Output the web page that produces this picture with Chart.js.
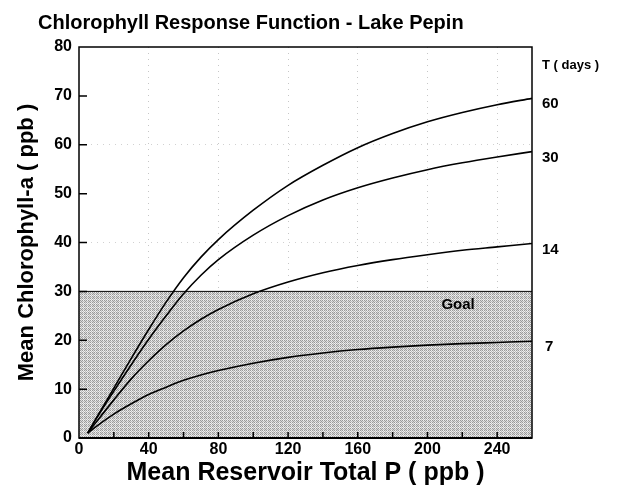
<!DOCTYPE html>
<html>
<head>
<meta charset="utf-8">
<script src="https://cdn.jsdelivr.net/npm/chart.js@4.4.0/dist/chart.umd.min.js"></script>
<style>
  html, body { margin: 0; padding: 0; background: #fff; }
  #wrap { width: 629px; height: 486px; }
</style>
</head>
<body>
<div id="wrap"><canvas id="myChart"></canvas></div>
<script>
// total P (ppb) sample points
const totalP = [5, 10, 20, 30, 40, 50, 60, 70, 80, 100, 120, 140, 160, 180, 200, 220, 240, 260];

// chlorophyll-a response for each residence time T (days)
const chl60 = [1.0, 4.1, 10.2, 16.3, 22.2, 27.8, 32.8, 37.0, 40.6, 46.6, 51.7, 55.8, 59.4, 62.3, 64.7, 66.6, 68.2, 69.5];
const chl30 = [1.0, 4.0, 9.6, 15.0, 20.2, 25.0, 29.5, 33.3, 36.5, 41.5, 45.5, 48.7, 51.2, 53.2, 54.9, 56.3, 57.5, 58.6];
const chl14 = [1.0, 3.3, 7.8, 12.1, 15.8, 19.1, 21.9, 24.3, 26.3, 29.5, 31.9, 33.8, 35.3, 36.5, 37.5, 38.4, 39.1, 39.8];
const chl7  = [1.0, 2.4, 4.9, 7.0, 8.9, 10.4, 11.8, 12.9, 13.8, 15.3, 16.5, 17.4, 18.1, 18.6, 19.0, 19.3, 19.55, 19.8];
const residenceDays = ['60', '30', '14', '7'];

// goal band and axis labels
const goalLevel = 30;
const xTickLabels = [0, 40, 80, 120, 160, 200, 240];
const yTickLabels = [0, 10, 20, 30, 40, 50, 60, 70, 80];

const FONT = '"Liberation Sans", Arial, Helvetica, sans-serif';

// stippled grey fill like the scanned shading
function makeStipple() {
    const c = document.createElement('canvas');
    c.width = 4; c.height = 4;
    const g = c.getContext('2d');
    for (let y = 0; y < 4; y++) {
        for (let x = 0; x < 4; x++) {
            let col = ((x + y) % 2 === 0) ? '#999999' : '#dadada';
            if (x === 3 || y === 3) col = ((x + y) % 2 === 0) ? '#bcbcbc' : '#f0f0f0';
            g.fillStyle = col;
            g.fillRect(x, y, 1, 1);
        }
    }
    return g.createPattern(c, 'repeat');
}

function toPoints(ys) {
    return totalP.map((x, i) => ({ x: x, y: ys[i] }));
}

// box, inward ticks and text labels
const decorPlugin = {
    id: 'decor',
    afterDatasetsDraw(chart) {
        const ctx = chart.ctx;
        const a = chart.chartArea;
        const xs = chart.scales.x;
        const ys = chart.scales.y;
        ctx.save();
        ctx.strokeStyle = '#000';

        // inward tick marks
        ctx.lineWidth = 1.5;
        ctx.beginPath();
        xs.ticks.forEach(t => {
            if (t.value <= 0 || t.value >= 260) return;
            const px = xs.getPixelForValue(t.value);
            ctx.moveTo(px, a.bottom);
            ctx.lineTo(px, a.bottom - 6);
        });
        ys.ticks.forEach(t => {
            if (t.value <= 0 || t.value >= 80) return;
            const py = ys.getPixelForValue(t.value);
            ctx.moveTo(a.left, py);
            ctx.lineTo(a.left + 8, py);
        });
        ctx.stroke();

        // frame
        ctx.lineWidth = 1.5;
        ctx.strokeRect(a.left, a.top, a.right - a.left, a.bottom - a.top);
        ctx.lineWidth = 2.2;
        ctx.beginPath();
        ctx.moveTo(a.left, a.bottom);
        ctx.lineTo(a.right, a.bottom);
        ctx.stroke();

        // goal label, just inside the band
        ctx.fillStyle = '#000';
        ctx.font = 'bold 15px ' + FONT;
        ctx.textAlign = 'left';
        ctx.textBaseline = 'middle';
        ctx.fillText('Goal', xs.getPixelForValue(208), ys.getPixelForValue(goalLevel) + 13);

        // residence time labels at the right
        ctx.font = 'bold 13px ' + FONT;
        ctx.fillText('T ( days )', a.right + 10, a.top + 18);
        ctx.font = 'bold 15px ' + FONT;
        chart.data.datasets.forEach(ds => {
            if (!ds.endLabel) return;
            const last = ds.data[ds.data.length - 1];
            ctx.fillText(ds.endLabel, a.right + 10 + (ds.endLabel.length === 1 ? 3 : 0), ys.getPixelForValue(last.y) + 6);
        });

        // title
        ctx.font = 'bold 20px ' + FONT;
        ctx.fillText('Chlorophyll Response Function - Lake Pepin', 38, 23);
        ctx.restore();
    }
};

const ctx = document.getElementById('myChart').getContext('2d');
const stipple = makeStipple();

const curveSets = [chl60, chl30, chl14, chl7].map((ys, i) => ({
    label: 'T = ' + residenceDays[i] + ' days',
    endLabel: residenceDays[i],
    data: toPoints(ys),
    borderColor: '#000',
    borderWidth: 1.6,
    pointRadius: 0,
    fill: false,
    cubicInterpolationMode: 'monotone',
    order: 1
}));

const goalSet = {
    label: 'Goal',
    data: [{ x: 0, y: goalLevel }, { x: 260, y: goalLevel }],
    borderColor: '#000',
    borderWidth: 1,
    backgroundColor: stipple,
    pointRadius: 0,
    fill: 'origin',
    order: 10
};

const myChart = new Chart(ctx, {
    type: 'line',
    data: { datasets: [goalSet].concat(curveSets) },
    options: {
        responsive: true,
        maintainAspectRatio: false,
        animation: false,
        layout: { padding: { top: 47, right: 97, left: 0, bottom: 0 } },
        plugins: {
            legend: { display: false },
            tooltip: { enabled: false },
            title: { display: false }
        },
        scales: {
            x: {
                type: 'linear',
                min: 0,
                max: 260,
                afterFit: s => { s.height = 48; },
                grid: {
                    drawTicks: false,
                    color: c => xTickLabels.includes(c.tick.value) && c.tick.value > 0 ? 'rgba(0,0,0,0.22)' : 'rgba(0,0,0,0)',
                    lineWidth: 1
                },
                border: { display: false, dash: [1, 5] },
                ticks: {
                    stepSize: 20,
                    padding: 2,
                    color: '#000',
                    font: { family: FONT, size: 16, weight: 'bold' },
                    maxRotation: 0,
                    autoSkip: false,
                    callback: v => xTickLabels.includes(v) ? String(v) : ''
                },
                title: {
                    display: true,
                    text: 'Mean Reservoir Total P ( ppb )',
                    color: '#000',
                    font: { family: FONT, size: 25, weight: 'bold' },
                    padding: { top: 0, bottom: -2 }
                }
            },
            y: {
                type: 'linear',
                min: 0,
                max: 80,
                afterFit: s => { s.width = 79; },
                grid: {
                    drawTicks: false,
                    color: c => [20, 40, 60].includes(c.tick.value) ? 'rgba(0,0,0,0.18)' : 'rgba(0,0,0,0)',
                    lineWidth: 1
                },
                border: { display: false, dash: [1, 5] },
                ticks: {
                    stepSize: 10,
                    padding: 7,
                    color: '#000',
                    font: { family: FONT, size: 16, weight: 'bold' },
                    callback: v => yTickLabels.includes(v) ? String(v) : ''
                },
                title: {
                    display: true,
                    text: 'Mean Chlorophyll-a ( ppb )',
                    color: '#000',
                    font: { family: FONT, size: 22, weight: 'bold' },
                    padding: { top: 14, bottom: 0 }
                }
            }
        }
    },
    plugins: [decorPlugin]
});
</script>
</body>
</html>
